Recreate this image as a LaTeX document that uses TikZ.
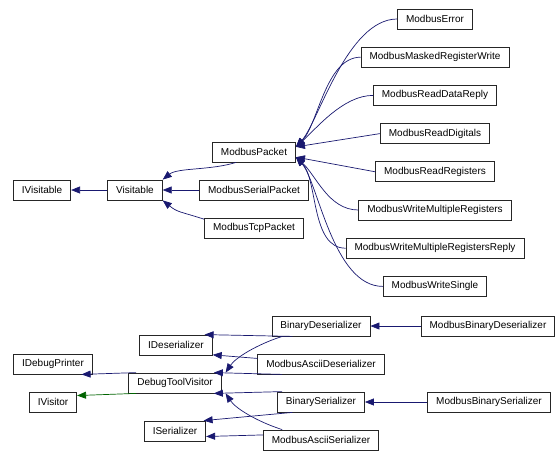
\documentclass[tikz,border=0pt]{standalone}
\usepackage{fontspec}
\setmainfont{Liberation Sans}
\usepackage{tikz}
\usetikzlibrary{arrows.meta}
\definecolor{edgeblue}{HTML}{191970}
\definecolor{edgegreen}{HTML}{006400}
\tikzstyle{classbox}=[rectangle,draw=black!85,fill=white,line width=0.8pt,
                      font=\fontsize{10}{11}\selectfont,inner xsep=8.5pt,
                      minimum height=20pt]
\tikzstyle{inherit}=[draw=edgeblue,line width=0.7pt,
                     -{Triangle[length=9pt,width=7pt]}]
\tikzstyle{usedby}=[inherit,draw=edgegreen,
                    -{Triangle[length=9pt,width=7pt,fill=edgegreen]}]
\newcommand\rightcol{435}
\newcommand\rowgap{38.2}

\begin{document}
\begin{tikzpicture}[x=1pt,y=-1pt]
	\useasboundingbox (0,0) rectangle (559,455);
	% packet hierarchy
	\node [classbox] (IVisitable) at (42,190) {IVisitable};
	\node [classbox] (Visitable) at (135,190) {Visitable};
	\node [classbox] (ModbusPacket) at (254,152) {ModbusPacket};
	\node [classbox] (ModbusSerialPacket) at (254,190) {ModbusSerialPacket};
	\node [classbox] (ModbusTcpPacket) at (254,228) {ModbusTcpPacket};

	\node [classbox] (ModbusError) at (\rightcol,19) {ModbusError};
	\node [classbox] (ModbusMaskedRegisterWrite) at (\rightcol,19+\rowgap*1) {ModbusMaskedRegisterWrite};
	\node [classbox] (ModbusReadDataReply) at (\rightcol,19+\rowgap*2) {ModbusReadDataReply};
	\node [classbox] (ModbusReadDigitals) at (\rightcol,19+\rowgap*3) {ModbusReadDigitals};
	\node [classbox] (ModbusReadRegisters) at (\rightcol,19+\rowgap*4) {ModbusReadRegisters};
	\node [classbox] (ModbusWriteMultipleRegisters) at (\rightcol,19+\rowgap*5) {ModbusWriteMultipleRegisters};
	\node [classbox] (ModbusWriteMultipleRegistersReply) at (\rightcol,19+\rowgap*6) {ModbusWriteMultipleRegistersReply};
	\node [classbox] (ModbusWriteSingle) at (\rightcol,19+\rowgap*7) {ModbusWriteSingle};

	\draw [inherit] (Visitable) -- (IVisitable);
	\draw [inherit] (ModbusPacket.-150) .. controls +(-25,8) and +(15,-12) .. (Visitable.north east);
	\draw [inherit] (ModbusSerialPacket) -- (Visitable);
	\draw [inherit] (ModbusTcpPacket.170) .. controls +(-25,-8) and +(15,12) .. (Visitable.south east);

	\draw [inherit] (ModbusError.west) .. controls +(-50,0) and +(22,-24) .. (ModbusPacket.7);
	\draw [inherit] (ModbusMaskedRegisterWrite.west) .. controls +(-35,0) and +(22,-22) .. (ModbusPacket.7);
	\draw [inherit] (ModbusReadDataReply.west) .. controls +(-30,0) and +(20,-18) .. (ModbusPacket.7);
	\draw [inherit] (ModbusReadDigitals.west) -- (ModbusPacket.7);
	\draw [inherit] (ModbusReadRegisters.west) -- (ModbusPacket.-7);
	\draw [inherit] (ModbusWriteMultipleRegisters.west) .. controls +(-30,0) and +(20,18) .. (ModbusPacket.-7);
	\draw [inherit] (ModbusWriteMultipleRegistersReply.west) .. controls +(-35,0) and +(22,22) .. (ModbusPacket.-7);
	\draw [inherit] (ModbusWriteSingle.west) .. controls +(-50,0) and +(22,24) .. (ModbusPacket.-7);

	% debug tool visitor
	\node [classbox] (IDeserializer) at (176,345) {IDeserializer};
	\node [classbox] (IDebugPrinter) at (53,364) {IDebugPrinter};
	\node [classbox] (DebugToolVisitor) at (175,383) {DebugToolVisitor};
	\node [classbox] (IVisitor) at (53,402) {IVisitor};
	\node [classbox] (ISerializer) at (175,431) {ISerializer};
	\node [classbox] (BinaryDeserializer) at (321,326) {BinaryDeserializer};
	\node [classbox] (ModbusAsciiDeserializer) at (321,364) {ModbusAsciiDeserializer};
	\node [classbox] (BinarySerializer) at (321,402) {BinarySerializer};
	\node [classbox] (ModbusAsciiSerializer) at (321,440) {ModbusAsciiSerializer};
	\node [classbox] (ModbusBinaryDeserializer) at (488,326) {ModbusBinaryDeserializer};
	\node [classbox] (ModbusBinarySerializer) at (489,402) {ModbusBinarySerializer};

	\draw [inherit] (DebugToolVisitor.165) -- (IDebugPrinter.-20);
	\draw [usedby] (DebugToolVisitor.-165) -- (IVisitor.15);
	\draw [inherit] (BinaryDeserializer.-160) -- (IDeserializer.20);
	\draw [inherit] (ModbusAsciiDeserializer.175) -- (IDeserializer.-15);
	\draw [inherit] (BinaryDeserializer.-165) .. controls +(-25,8) and +(10,-15) .. ([xshift=4pt]DebugToolVisitor.north east);
	\draw [inherit] (ModbusAsciiDeserializer.-165) -- (DebugToolVisitor.15);
	\draw [inherit] (BinarySerializer.165) -- (DebugToolVisitor.-15);
	\draw [inherit] (ModbusAsciiSerializer.165) .. controls +(-25,-8) and +(10,15) .. ([xshift=4pt]DebugToolVisitor.south east);
	\draw [inherit] (BinarySerializer.-160) -- (ISerializer.20);
	\draw [inherit] (ModbusAsciiSerializer.175) -- (ISerializer.-10);
	\draw [inherit] (ModbusBinaryDeserializer) -- (BinaryDeserializer);
	\draw [inherit] (ModbusBinarySerializer) -- (BinarySerializer);
\end{tikzpicture}
\end{document}
